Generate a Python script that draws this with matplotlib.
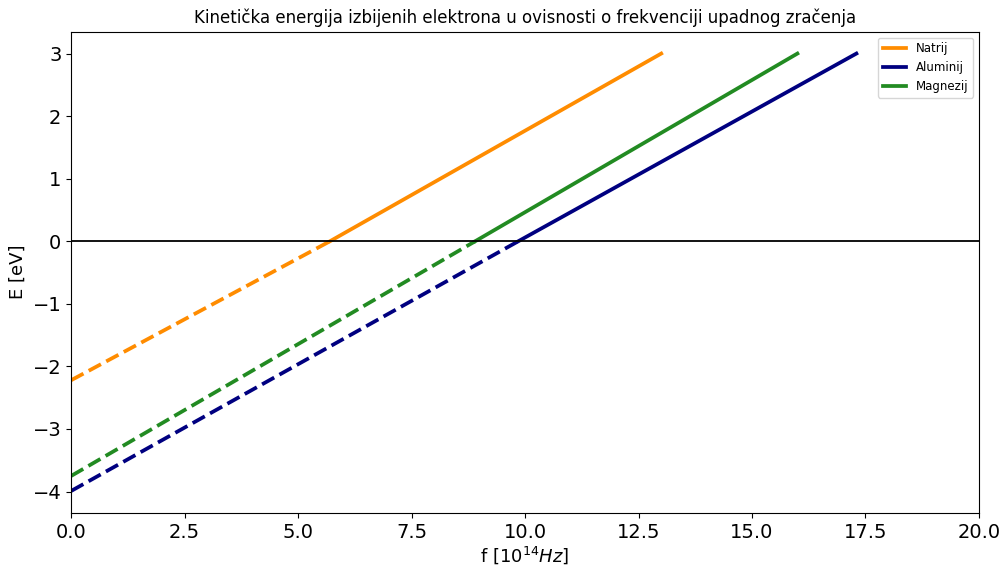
import matplotlib
matplotlib.use('Agg')
import matplotlib.pyplot as plt

# frekvencija u 10^14 Hz, energija u eV
metali = ['Natrij', 'Aluminij', 'Magnezij']
boje = ['darkorange', 'navy', 'forestgreen']
f_pocetak = [0.0, 0.0, 0.0]
E_pocetak = [-2.22, -3.99, -3.75]
f_granica = [5.70, 9.85, 8.90]
f_kraj = [13.0, 17.3, 16.0]
E_kraj = [3.0, 3.0, 3.0]

fig = plt.figure(figsize=(10.03, 5.66), dpi=100)
ax = fig.add_axes([0.071, 0.094, 0.905, 0.850])

for i in range(len(metali)):
    ax.plot([f_pocetak[i], f_granica[i]], [E_pocetak[i], 0], '--', color=boje[i], linewidth=2.7)
    ax.plot([f_granica[i], f_kraj[i]], [0, E_kraj[i]], color=boje[i], linewidth=2.7, label=metali[i])

ax.axhline(0, color='black', linewidth=1.3)
ax.set_xlim(0, 20)
ax.set_title('Kinetička energija izbijenih elektrona u ovisnosti o frekvenciji upadnog zračenja', fontsize=12)
ax.set_xlabel('f [$10^{14} Hz$]', fontsize=13, labelpad=2)
ax.set_ylabel('E [eV]', fontsize=13)
ax.tick_params(labelsize=14)
ax.legend(loc='upper right', fontsize=8.5)

fig.savefig('out.png', dpi=100)
